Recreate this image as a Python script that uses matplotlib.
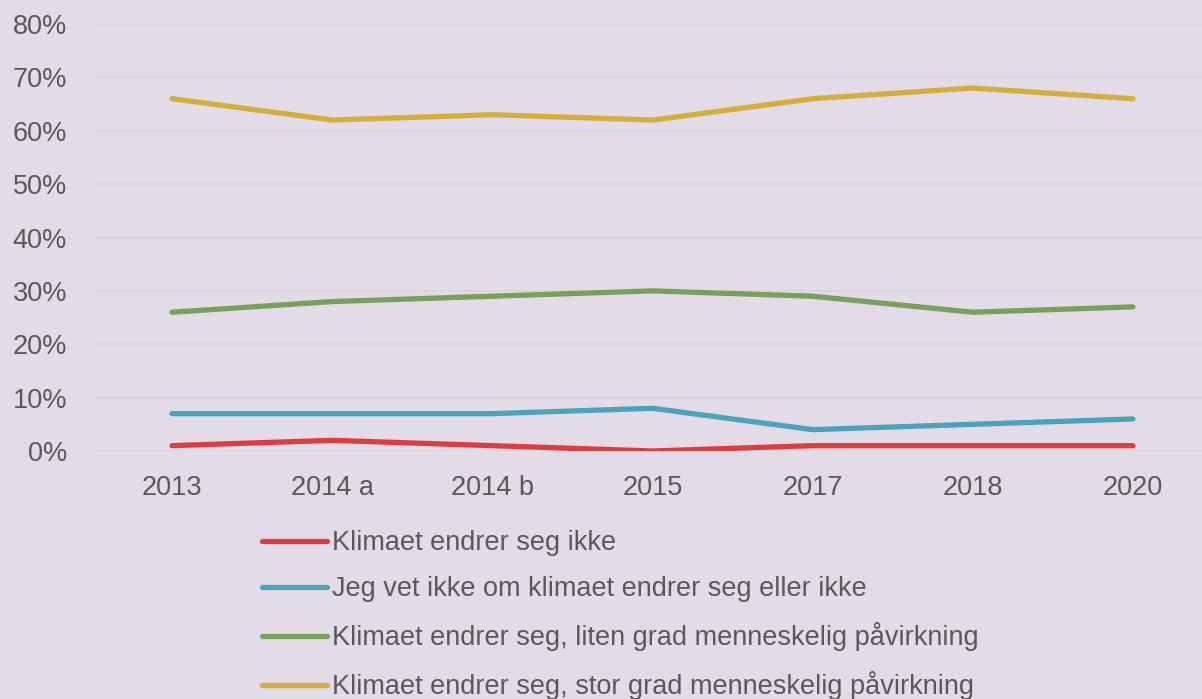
import numpy as np
import matplotlib.pyplot as plt
from matplotlib.ticker import PercentFormatter

years = ["2013", "2014 a", "2014 b", "2015", "2017", "2018", "2020"]
ikke = [1, 2, 1, 0, 1, 1, 1]
vet_ikke = [7, 7, 7, 8, 4, 5, 6]
liten = [26, 28, 29, 30, 29, 26, 27]
stor = [66, 62, 63, 62, 66, 68, 66]

labels = ["Klimaet endrer seg ikke",
          "Jeg vet ikke om klimaet endrer seg eller ikke",
          "Klimaet endrer seg, liten grad menneskelig påvirkning",
          "Klimaet endrer seg, stor grad menneskelig påvirkning"]
colors = ["#DC3D3F", "#4BA3B9", "#76A05B", "#D4AE3C"]

bg = "#E3DBE7"
txt = "#595959"
plt.rcParams['font.family'] = ['Liberation Sans', 'DejaVu Sans']

fig = plt.figure(figsize=(12.02, 6.99), dpi=100, facecolor=bg)
ax = fig.add_axes([92 / 1202, (699 - 451) / 699, 1121 / 1202, (451 - 24) / 699])
ax.set_facecolor(bg)

x = np.arange(len(years))
for vals, lab, col in zip([ikke, vet_ikke, liten, stor], labels, colors):
    ax.plot(x, vals, color=col, lw=3.8, label=lab, solid_capstyle='round')

ax.set_xlim(-0.5, len(years) - 0.5)
ax.set_ylim(0, 80)
ax.set_yticks(range(0, 81, 10))
ax.yaxis.set_major_formatter(PercentFormatter(decimals=0))
ax.set_xticks(x)
ax.set_xticklabels(years)
ax.tick_params(length=0, labelsize=19.5, colors=txt, pad=17)
ax.tick_params(axis='y', pad=18)
ax.grid(axis='y', color="#D9D4D9", lw=1.1)
ax.set_axisbelow(True)
for s in ax.spines.values():
    s.set_visible(False)

h, l = ax.get_legend_handles_labels()
fig.legend(h, l, loc='upper left', bbox_to_anchor=(262 / 1202, 1 - 530 / 699),
           frameon=False, fontsize=19.5, labelcolor=txt, handlelength=2.4,
           handletextpad=0.2, labelspacing=0.74, borderpad=0, borderaxespad=0)

fig.savefig("out.png", dpi=100, facecolor=bg)
